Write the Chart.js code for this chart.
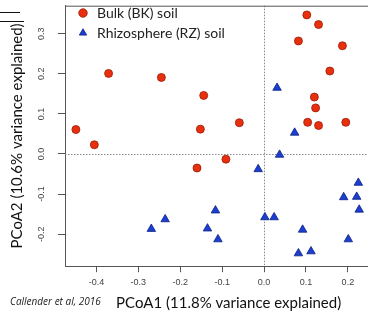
<!DOCTYPE html>
<html lang="en">
<head>
    <meta charset="UTF-8">
    <title>PCoA plot</title>
    <script src="https://cdn.jsdelivr.net/npm/chart.js"></script>
    <style>
        html, body { margin: 0; padding: 0; background: #fff; overflow: hidden; }
        /* the plot box runs past the right edge of the picture, as in the cropped slide */
        .chart-container { position: relative; width: 398px; height: 316px; }
    </style>
</head>
<body>
    <div class="chart-container">
        <canvas id="pcoaChart"></canvas>
    </div>
    <script>
        // values
        const seriesNames = ['Bulk (BK) soil', 'Rhizosphere (RZ) soil'];
        const bulkX = [-0.449, -0.405, -0.371, -0.245, -0.144, -0.152, -0.059, -0.160, -0.091,
                       0.102, 0.130, 0.082, 0.187, 0.157, 0.120, 0.123, 0.104, 0.130, 0.195];
        const bulkY = [0.061, 0.023, 0.201, 0.191, 0.146, 0.062, 0.078, -0.035, -0.013,
                       0.347, 0.323, 0.282, 0.270, 0.207, 0.142, 0.115, 0.079, 0.071, 0.079];
        const rhizoX = [0.031, 0.073, 0.037, -0.014, 0.225, 0.190, 0.221, 0.227, -0.116, 0.002,
                        0.024, -0.135, 0.092, -0.110, 0.201, 0.082, 0.112, -0.269, -0.236];
        const rhizoY = [0.165, 0.053, -0.002, -0.038, -0.072, -0.108, -0.107, -0.139, -0.141, -0.158,
                        -0.158, -0.186, -0.189, -0.213, -0.213, -0.248, -0.243, -0.187, -0.163];
        const xTicks = [-0.4, -0.3, -0.2, -0.1, 0.0, 0.1, 0.2];
        const yTicks = [-0.2, -0.1, 0.0, 0.1, 0.2, 0.3];
        const xTitle = 'PCoA1 (11.8% variance explained)';
        const yTitle = 'PCoA2 (10.6% variance explained)';
        const caption = 'Callender et al, 2016';

        const toPoints = (xs, ys) => xs.map((x, i) => ({ x: x, y: ys[i] }));
        const tickLabel = v => v.toFixed(1);

        Chart.defaults.font.family = 'Lato';
        Chart.defaults.color = '#222';

        // box top line, dotted zero lines, rotated y labels, caption
        const framePlugin = {
            id: 'frame',
            afterLayout(chart) {
                // nudge the in-plot legend a little right
                chart.legend.left += 5;
            },
            beforeDatasetsDraw(chart) {
                const { ctx, chartArea, scales } = chart;
                const x0 = scales.x.getPixelForValue(0);
                const y0 = scales.y.getPixelForValue(0);
                ctx.save();
                ctx.strokeStyle = '#8a8a8a';
                ctx.lineWidth = 1;
                ctx.setLineDash([1.5, 1.5]);
                ctx.beginPath();
                ctx.moveTo(Math.round(x0) + 0.5, chartArea.top);
                ctx.lineTo(Math.round(x0) + 0.5, chartArea.bottom);
                ctx.moveTo(chartArea.left, Math.round(y0) + 0.5);
                ctx.lineTo(chartArea.right, Math.round(y0) + 0.5);
                ctx.stroke();
                ctx.restore();
            },
            afterDraw(chart) {
                const { ctx, chartArea, scales } = chart;
                ctx.save();
                ctx.strokeStyle = '#555';
                ctx.lineWidth = 1;
                ctx.beginPath();
                ctx.moveTo(chartArea.left, chartArea.top + 0.5);
                ctx.lineTo(chartArea.right, chartArea.top + 0.5);
                ctx.stroke();

                ctx.fillStyle = '#444';
                ctx.font = '9px "Liberation Sans"';
                ctx.textAlign = 'center';
                ctx.textBaseline = 'middle';
                scales.y.ticks.forEach(t => {
                    const py = scales.y.getPixelForValue(t.value);
                    ctx.save();
                    ctx.translate(42, py);
                    ctx.rotate(-Math.PI / 2);
                    ctx.fillText(tickLabel(t.value), 0, 0);
                    ctx.restore();
                });

                ctx.fillStyle = '#222';
                ctx.font = 'italic 10px "Open Sans"';
                ctx.textAlign = 'left';
                ctx.fillText(caption, 10, 302);

                // stray lines at the top-left corner of the slide crop
                ctx.strokeStyle = '#111';
                ctx.beginPath();
                ctx.moveTo(0, 12.5); ctx.lineTo(20, 12.5);
                ctx.moveTo(0, 21.5); ctx.lineTo(24, 21.5);
                ctx.stroke();
                ctx.restore();
            }
        };

        const ctx = document.getElementById('pcoaChart').getContext('2d');
        new Chart(ctx, {
            type: 'scatter',
            data: {
                datasets: [{
                    label: seriesNames[0],
                    data: toPoints(bulkX, bulkY),
                    pointStyle: 'circle',
                    pointRadius: 4,
                    backgroundColor: '#e8300f',
                    borderColor: '#9c1a08',
                    borderWidth: 0.8
                }, {
                    label: seriesNames[1],
                    data: toPoints(rhizoX, rhizoY),
                    pointStyle: 'triangle',
                    pointRadius: 4.9,
                    backgroundColor: '#1b3fd2',
                    borderColor: '#0b1f7e',
                    borderWidth: 0.8
                }]
            },
            options: {
                responsive: true,
                maintainAspectRatio: false,
                animation: false,
                events: [],
                layout: {
                    padding: { top: 3, left: 0, right: 0, bottom: 0 }
                },
                scales: {
                    x: {
                        type: 'linear',
                        min: -0.475,
                        max: 0.306,
                        afterBuildTicks: scale => { scale.ticks = xTicks.map(v => ({ value: v })); },
                        grid: { display: true, drawOnChartArea: false, drawTicks: true, tickLength: 6, color: '#555' },
                        border: { display: true, color: '#555', width: 1 },
                        ticks: {
                            padding: 5,
                            color: '#444',
                            font: { family: 'Liberation Sans', size: 9 },
                            callback: v => tickLabel(v)
                        },
                        title: {
                            display: true,
                            text: xTitle,
                            color: '#111',
                            font: { size: 15 },
                            padding: { top: 1, bottom: 4 }
                        }
                    },
                    y: {
                        type: 'linear',
                        min: -0.28,
                        max: 0.37,
                        afterBuildTicks: scale => { scale.ticks = yTicks.map(v => ({ value: v })); },
                        grid: { display: true, drawOnChartArea: false, drawTicks: true, tickLength: 7, color: '#555' },
                        border: { display: true, color: '#555', width: 1 },
                        ticks: { display: false },
                        title: {
                            display: true,
                            text: yTitle,
                            color: '#111',
                            font: { size: 15 },
                            padding: { top: 8, bottom: 32 }
                        }
                    }
                },
                plugins: {
                    legend: {
                        display: true,
                        position: 'chartArea',
                        align: 'start',
                        labels: {
                            usePointStyle: true,
                            boxWidth: 14,
                            boxHeight: 6,
                            padding: 6,
                            color: '#222',
                            font: { size: 14 }
                        }
                    },
                    tooltip: { enabled: false }
                }
            },
            plugins: [framePlugin]
        });
    </script>
</body>
</html>
